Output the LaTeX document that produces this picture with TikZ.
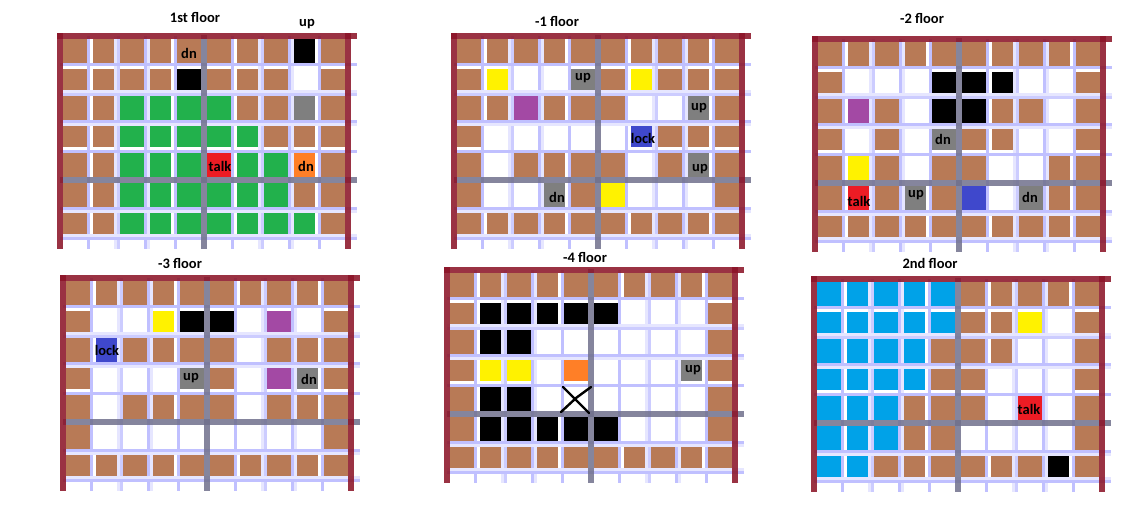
\documentclass[tikz,border=0pt]{standalone}
\usepackage{fontspec}
\setmainfont{Carlito}
\definecolor{cellb}{RGB}{184,122,86}
\definecolor{cellw}{RGB}{255,255,255}
\definecolor{cellk}{RGB}{0,0,0}
\definecolor{cellg}{RGB}{34,177,76}
\definecolor{cellr}{RGB}{237,28,36}
\definecolor{cello}{RGB}{255,127,39}
\definecolor{cella}{RGB}{127,127,127}
\definecolor{celly}{RGB}{255,242,0}
\definecolor{cellp}{RGB}{163,73,164}
\definecolor{celll}{RGB}{63,72,204}
\definecolor{cellc}{RGB}{0,162,232}
\definecolor{walred}{RGB}{140,20,40}
\definecolor{axisgray}{RGB}{112,112,140}
\definecolor{griddark}{RGB}{192,192,255}
\definecolor{gridmid}{RGB}{204,204,255}
\definecolor{gridfaint}{RGB}{230,230,255}
\tikzset{
  wallbar/.style={line width=6pt,walred,opacity=.87},
  axisbar/.style={line width=6pt,axisgray,opacity=.85},
  gridbar/.style={line width=3pt,griddark},
  midbar/.style={line width=3pt,gridmid},
  faintbar/.style={line width=3pt,gridfaint},
  tag/.style={inner sep=0pt,text=black,font=\fontsize{14.5}{18}\selectfont\bfseries},
  floortitle/.style={tag}
}
\def\colstart{{3,33,60,90,117,147,177,204,234,261}}
\def\colstop{{27,54,84,111,141,171,198,228,255,285}}
\def\rowstart{{3,33,60,90,117,147,177}}
\def\rowstop{{27,54,84,111,141,171,198}}
\newcommand{\floorgrid}[3]{
\begin{scope}[shift={(#1,#2)}]
\foreach \r [count=\j from 0] in {#3}{
  \foreach \c [count=\i from 0] in \r{
    \pgfmathsetmacro\xa{\colstart[\i]}
    \pgfmathsetmacro\xb{\colstop[\i]}
    \pgfmathsetmacro\ya{\rowstart[\j]}
    \pgfmathsetmacro\yb{\rowstop[\j]}
    \fill[cell\c] (\xa,\ya) rectangle (\xb,\yb);
  }
}
\foreach \v in {28.5,85.5,115.5,172.5,229.5,259.5}
  \draw[gridbar] (\v,0) -- (\v,213);
\foreach \v in {55.5,199.5}
  \draw[faintbar] (\v,0) -- (\v,213);
\foreach \v in {58.5,202.5}
  \draw[midbar] (\v,0) -- (\v,213);
\foreach \v in {88.5,232.5}
  \draw[faintbar] (\v,0) -- (\v,213);
\foreach \h in {28.5,85.5,115.5,172.5,202.5}
  \draw[gridbar] (0,\h) -- (297,\h);
\foreach \h in {55.5,88.5,175.5,199.5}
  \draw[faintbar] (0,\h) -- (297,\h);
\draw[midbar] (0,58.5) -- (297,58.5);
\draw[axisbar] (144,-1) -- (144,213);
\draw[axisbar] (0,144) -- (297,144);
\draw[wallbar] (-3,0) -- (297,0);
\draw[wallbar] (0,-3) -- (0,213);
\draw[wallbar] (288,-3) -- (288,213);
\end{scope}
}
\begin{document}
\begin{tikzpicture}[x=1pt,y=-1pt]
\useasboundingbox (0,0) rectangle (1146,522);
\fill[white] (0,0) rectangle (1146,522);
\floorgrid{60}{36}{
{b,b,b,b,b,b,b,b,k,b},
{b,b,b,b,k,b,b,b,w,b},
{b,b,g,g,g,g,b,b,a,b},
{b,b,g,g,g,g,g,b,b,b},
{b,b,g,g,g,r,g,g,o,b},
{b,b,g,g,g,g,g,g,b,b},
{b,b,g,g,g,g,g,g,g,b}}
\floorgrid{454}{36}{
{b,b,b,b,b,b,b,b,b,b},
{b,y,w,w,a,b,y,b,b,b},
{b,b,p,b,b,b,w,w,a,b},
{b,w,w,w,w,w,l,b,b,b},
{b,w,b,b,b,b,w,b,a,b},
{b,w,w,a,b,y,w,w,w,b},
{b,b,b,b,b,b,b,b,b,b}}
\floorgrid{815}{39}{
{b,b,b,b,b,b,b,b,b,b},
{b,w,w,w,k,k,k,w,w,b},
{b,p,b,w,k,k,b,b,w,b},
{b,w,b,w,a,b,b,w,w,b},
{b,y,b,w,b,b,w,w,b,b},
{b,r,b,a,b,l,w,a,b,b},
{b,b,b,b,b,b,b,b,b,b}}
\floorgrid{63}{278}{
{b,b,b,b,b,b,b,b,b,b},
{b,w,w,y,k,k,w,p,w,b},
{b,l,b,b,b,b,w,b,b,b},
{b,w,w,w,a,b,w,p,a,b},
{b,w,b,b,b,b,w,b,b,b},
{b,w,w,w,w,w,w,w,w,b},
{b,b,b,b,b,b,b,b,b,b}}
\floorgrid{447}{270}{
{b,b,b,b,b,b,b,b,b,b},
{b,k,k,k,k,k,w,w,w,b},
{b,k,k,w,w,w,w,w,w,b},
{b,y,y,w,o,w,w,w,a,b},
{b,k,k,w,w,w,w,w,w,b},
{b,k,k,k,k,k,w,w,w,b},
{b,b,b,b,b,b,b,b,b,b}}
\floorgrid{814}{279}{
{c,c,c,c,c,b,b,b,b,b},
{c,c,c,c,c,b,b,y,w,b},
{c,c,c,c,b,b,b,w,w,b},
{c,c,c,c,b,b,w,w,w,b},
{c,c,c,b,b,b,w,r,w,b},
{c,c,c,b,b,w,w,w,w,b},
{c,c,b,b,b,b,b,b,k,b}}
\node[floortitle] (titlefirst) at (195,17) {1st floor};
\node[tag] (firstup) at (307,24) {up};
\node[tag] (firstdna) at (189,53) {dn};
\node[tag] (firsttalk) at (220,166) {talk};
\node[tag] (firstdnb) at (306,166) {dn};
\node[floortitle] (titlemone) at (557,21) {-1 floor};
\node[tag] (moneupa) at (583,78) {up};
\node[tag] (moneupb) at (699,108) {up};
\node[tag] (monelock) at (643,138) {lock};
\node[tag] (moneupc) at (700,169) {up};
\node[tag] (monedn) at (557,197) {dn};
\node[floortitle] (titlemtwo) at (922,18) {-2 floor};
\node[tag] (mtwodna) at (943,139) {dn};
\node[tag] (mtwotalk) at (859,201) {talk};
\node[tag] (mtwoup) at (916,195) {up};
\node[tag] (mtwodnb) at (1030,197) {dn};
\node[floortitle] (titlemthree) at (180,263) {-3 floor};
\node[tag] (mthreelock) at (107,350) {lock};
\node[tag] (mthreeup) at (191,378) {up};
\node[tag] (mthreedn) at (309,379) {dn};
\node[floortitle] (titlemfour) at (585,257) {-4 floor};
\node[tag] (mfourup) at (693,370) {up};
\node[floortitle] (titlesecond) at (930,263) {2nd floor};
\node[tag] (secondtalk) at (1029,409) {talk};
\draw[line width=2.4pt,line cap=round] (563,387) -- (589,413);
\draw[line width=2.4pt,line cap=round] (561,412) -- (576,398) -- (591,387);
\end{tikzpicture}
\end{document}
